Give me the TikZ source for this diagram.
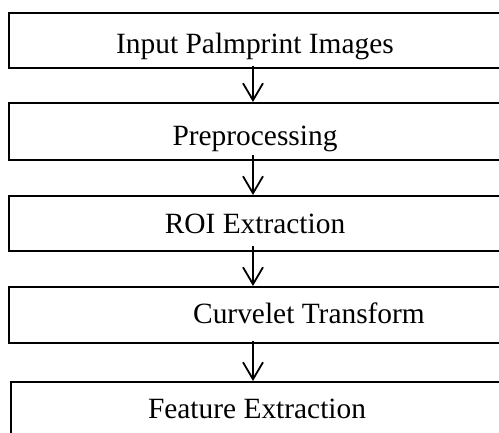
\documentclass[tikz,border=0pt]{standalone}
\usepackage{fontspec}
\setmainfont{Liberation Serif}
\usetikzlibrary{arrows.meta}
\tikzset{
  stagebox/.style={draw, line width=2.4pt, rectangle, inner sep=0pt},
  stagetext/.style={anchor=base, inner sep=0pt, font=\fontsize{29.4}{35}\selectfont},
  flow/.style={line width=1.8pt, -{Straight Barb[length=17pt,width=20pt,line width=1.8pt]}},
}
\begin{document}
\begin{tikzpicture}[x=1pt,y=-1pt]
  \useasboundingbox (0,0) rectangle (499,432);
  \clip (0,0) rectangle (499,432);
  % stage boxes (they run past the right and bottom edges)
  \node[stagebox, minimum width=532pt, minimum height=55pt, anchor=north west] (b1) at (8,12) {};
  \node[stagebox, minimum width=532pt, minimum height=57pt, anchor=north west] (b2) at (8,102) {};
  \node[stagebox, minimum width=532pt, minimum height=55pt, anchor=north west] (b3) at (8,195) {};
  \node[stagebox, minimum width=532pt, minimum height=56pt, anchor=north west] (b4) at (8,286) {};
  \node[stagebox, minimum width=532pt, minimum height=70pt, anchor=north west] (b5) at (9.5,381) {};
  % stage labels
  \node[stagetext] (t1) at (255,53) {Input Palmprint Images};
  \node[stagetext] (t2) at (255,145) {Preprocessing};
  \node[stagetext] (t3) at (255,233) {ROI Extraction};
  \node[stagetext] (t4) at (309,323) {Curvelet Transform};
  \node[stagetext] (t5) at (257,418) {Feature Extraction};
  % flow arrows along one vertical axis
  \coordinate (ax) at (253,0);
  \draw[flow] ([yshift=3pt]b1.south -| ax) -- (b2.north -| ax);
  \draw[flow] ([yshift=6pt]b2.south -| ax) -- (b3.north -| ax);
  \draw[flow] ([yshift=6pt]b3.south -| ax) -- (b4.north -| ax);
  \draw[flow] ([yshift=3pt]b4.south -| ax) -- (b5.north -| ax);
\end{tikzpicture}
\end{document}
